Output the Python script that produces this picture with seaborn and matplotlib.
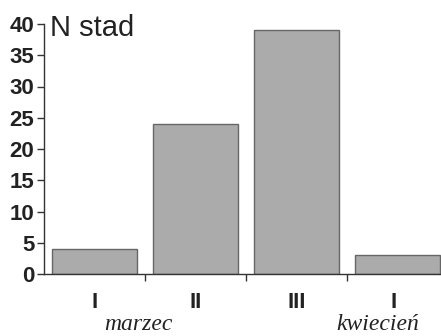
import matplotlib
matplotlib.use('Agg')
import matplotlib.pyplot as plt
import seaborn as sns
import pandas as pd

# dekady (decades of the month) and number of herds
dekady = ['I', 'II', 'III', 'I ']
n_stad = [4, 24, 39, 3]
miesiace = ['marzec', 'kwiecień']
miesiace_x = [0.43, 2.80]

df = pd.DataFrame({'dekada': dekady, 'n': n_stad})

sns.set_theme(style='ticks')
plt.rcParams['font.family'] = ['Liberation Sans', 'DejaVu Sans']

fig = plt.figure(figsize=(4.41, 3.36), dpi=100)
ax = fig.add_axes([44 / 441, 62 / 336, 397 / 441, 250 / 336])

sns.barplot(x='dekada', y='n', data=df, ax=ax, color='#ababab',
            edgecolor='#666666', linewidth=1.0, width=0.85, saturation=1)

ax.set_xlim(-0.5, 3.43)
ax.set_ylim(0, 40)
ax.set_yticks(range(0, 41, 5))
ax.set_ylabel('')
ax.set_xlabel('')
for lab in ax.get_yticklabels():
    lab.set_fontweight('bold')
    lab.set_fontsize(16)
    lab.set_color('#222222')

# tick marks between bars, labels centered under bars
ax.set_xticks([0.5, 1.5, 2.5])
ax.set_xticklabels([])
ax.set_xticks(range(len(dekady)), minor=True)
ax.set_xticklabels(dekady, minor=True, fontsize=16, fontweight='bold', color='#222222')
ax.tick_params(axis='x', which='minor', length=0, pad=13)
ax.tick_params(axis='x', which='major', length=5, width=1, color='#333333')
ax.tick_params(axis='y', length=5, width=1, color='#333333', pad=2)

for s in ['top', 'right']:
    ax.spines[s].set_visible(False)
for s in ['left', 'bottom']:
    ax.spines[s].set_color('#333333')
    ax.spines[s].set_linewidth(1)

ax.text(0.015, 1.04, 'N stad', transform=ax.transAxes, fontsize=21,
        va='top', ha='left', color='#222222')

for name, xm in zip(miesiace, miesiace_x):
    ax.text(xm, -0.222, name, transform=ax.get_xaxis_transform(), ha='center',
            va='baseline', fontsize=17, fontstyle='italic', family=['Liberation Serif'],
            color='#222222')

fig.savefig('out.png', dpi=100)
